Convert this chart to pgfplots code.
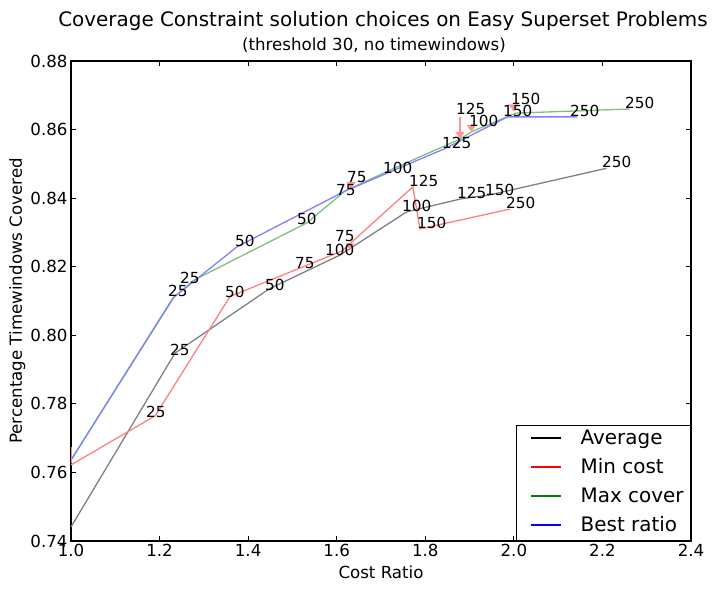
\documentclass[border=0pt]{standalone}
\usepackage{pgfplots}
\pgfplotsset{compat=1.18}
\usepackage{fontspec}
\setmainfont{DejaVu Sans}
\usetikzlibrary{arrows.meta}

\definecolor{avgc}{RGB}{128,128,128}
\definecolor{minc}{RGB}{255,128,128}
\definecolor{maxc}{RGB}{128,191,128}
\definecolor{bestc}{RGB}{128,128,255}
\definecolor{mplgreen}{RGB}{0,128,0}
\definecolor{arrowc}{RGB}{255,150,150}

\begin{document}
\begin{tikzpicture}[x=1bp,y=1bp]
\path[use as bounding box] (-71,-48) rectangle (648,541);
\begin{axis}[
  at={(0,0)}, anchor=south west,
  scale only axis, width=620bp, height=480bp,
  xmin=1.0, xmax=2.4, ymin=0.74, ymax=0.88,
  xtick={1.0,1.2,1.4,1.6,1.8,2.0,2.2,2.4},
  ytick={0.74,0.76,0.78,0.80,0.82,0.84,0.86,0.88},
  xticklabel style={/pgf/number format/.cd, fixed, fixed zerofill, precision=1},
  yticklabel style={/pgf/number format/.cd, fixed, fixed zerofill, precision=2},
  /pgf/number format/assume math mode=true,
  tick label style={font=\fontsize{16.7}{20}\selectfont},
  tick align=inside, major tick length=5bp,
  tick style={black, line width=0.8bp},
  axis line style={line width=1.1bp},
  xlabel={Cost Ratio}, ylabel={Percentage Timewindows Covered},
  label style={font=\fontsize{16.7}{20}\selectfont},
  xlabel style={at={(axis description cs:0.5,0)}, anchor=base, yshift=-37bp},
  ylabel style={at={(axis description cs:0,0.5)}, anchor=base, yshift=49bp},
  legend style={at={(1,0)}, anchor=south east, font=\fontsize{20}{24}\selectfont,
    draw=black, line width=0.8bp, inner xsep=7bp, inner ysep=4bp,
    row sep=9bp, column sep=0bp,
    nodes={inner sep=0bp, text height=14.6bp, text depth=5.4bp},
    cells={anchor=west}},
  legend image code/.code={%
    \path[draw=none] (0bp,0bp) -- (57bp,0bp);
    \draw[#1, line width=1.4bp] (7bp,1.5bp) -- (37bp,1.5bp);},
  every axis plot/.append style={line width=1.3bp},
]
% Average
\addplot[avgc, forget plot] coordinates {(1.0,0.7441) (1.2348,0.7948) (1.447,0.8135) (1.6074,0.8234)
  (1.758,0.8360) (1.881,0.8398) (1.944,0.8409) (2.209,0.8487)};
% Min cost
\addplot[minc, forget plot] coordinates {(1.0,0.7622) (1.19,0.7765) (1.359,0.8113)
  (1.6119,0.8246) (1.772,0.8433) (1.788,0.8310) (1.991,0.8368)};
% Max cover
\addplot[maxc, forget plot] coordinates {(1.0,0.7636) (1.233,0.8112) (1.2777,0.8161) (1.5329,0.8328)
  (1.618,0.8420) (1.714,0.8478) (1.878,0.8572) (1.905,0.8594) (2.005,0.8648) (2.262,0.8660)};
% Best ratio
\addplot[bestc, forget plot] coordinates {(1.0,0.7636) (1.2303,0.8109) (1.3748,0.8258) (1.618,0.8420)
  (1.714,0.8473) (1.847,0.8546) (1.985,0.8637) (2.143,0.8637)};

\addlegendimage{black}\addlegendentry{Average}
\addlegendimage{red}\addlegendentry{Min cost}
\addlegendimage{mplgreen}\addlegendentry{Max cover}
\addlegendimage{blue}\addlegendentry{Best ratio}

% threshold annotations
\tikzset{lab/.style={anchor=base west, inner sep=0pt, font=\fontsize{15.3}{18}\selectfont, black},
         ann/.style={draw=arrowc, line width=2.6bp, -{Triangle[width=9bp,length=7bp]}, shorten >=1bp}}
% arrows of the shifted labels
\draw[minc, line width=1.3bp] (axis cs:1.0005,0.7628) -- (axis cs:1.0005,0.7675);
\draw[ann] (axis cs:1.6323,0.8447) -- (axis cs:1.6323,0.8424);
\draw[ann] (axis cs:1.6300,0.8270) -- (axis cs:1.6300,0.8245);
\draw[ann] (axis cs:1.8784,0.8638) -- (axis cs:1.8784,0.8570);
\draw[ann] (axis cs:1.9040,0.8605) -- (axis cs:1.9040,0.8590);
\draw[ann] (axis cs:1.9990,0.8668) -- (axis cs:1.9990,0.8650);
% Average
\node[lab] at (axis cs:1.2235,0.7940) {25};
\node[lab] at (axis cs:1.4381,0.8132) {50};
\node[lab] at (axis cs:1.5735,0.8234) {100};
\node[lab] at (axis cs:1.7474,0.8360) {100};
\node[lab] at (axis cs:1.8716,0.8398) {125};
\node[lab] at (axis cs:1.9348,0.8409) {150};
\node[lab] at (axis cs:2.1990,0.8488) {250};
% Min cost
\node[lab] at (axis cs:1.1694,0.7759) {25};
\node[lab] at (axis cs:1.3477,0.8109) {50};
\node[lab] at (axis cs:1.5058,0.8196) {75};
\node[lab] at (axis cs:1.5961,0.8273) {75};
\node[lab] at (axis cs:1.7632,0.8433) {125};
\node[lab] at (axis cs:1.7813,0.8310) {150};
\node[lab] at (axis cs:1.9823,0.8371) {250};
% Max cover and Best ratio
\node[lab] at (axis cs:1.2190,0.8112) {25};
\node[lab] at (axis cs:1.2461,0.8150) {25};
\node[lab] at (axis cs:1.3703,0.8258) {50};
\node[lab] at (axis cs:1.5103,0.8322) {50};
\node[lab] at (axis cs:1.5984,0.8409) {75};
\node[lab] at (axis cs:1.6232,0.8447) {75};
\node[lab] at (axis cs:1.7045,0.8473) {100};
\node[lab] at (axis cs:1.8377,0.8546) {125};
\node[lab] at (axis cs:1.8694,0.8643) {125};
\node[lab] at (axis cs:1.8987,0.8608) {100};
\node[lab] at (axis cs:1.9755,0.8637) {150};
\node[lab] at (axis cs:1.9935,0.8672) {150};
\node[lab] at (axis cs:2.1268,0.8637) {250};
\node[lab] at (axis cs:2.2510,0.8660) {250};
\end{axis}
\node[anchor=base, font=\fontsize{20}{24}\selectfont] at (312,514) {Coverage Constraint solution choices on Easy Superset Problems};
\node[anchor=base, font=\fontsize{16.7}{20}\selectfont] at (303,490) {(threshold 30, no timewindows)};
\end{tikzpicture}
\end{document}
